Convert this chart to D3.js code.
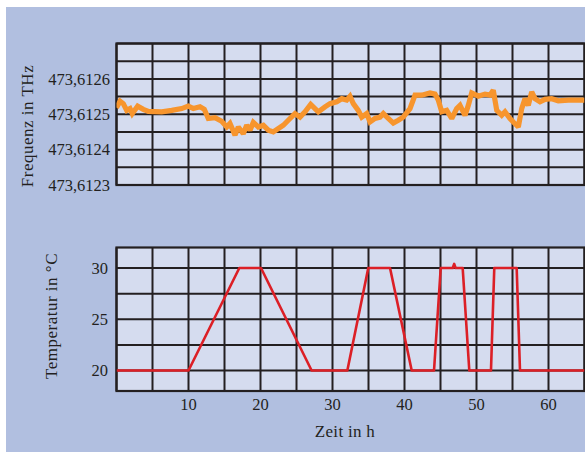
<!DOCTYPE html>
<html><head><meta charset="utf-8">
<script src="https://cdn.jsdelivr.net/npm/d3@7/dist/d3.min.js"></script>
<style>html,body{margin:0;padding:0;background:#fff;}svg{display:block;}</style>
</head><body>
<script>
// Frequency trace (hours, THz)
const freqHours = [0,0.49,0.94,1.42,1.88,2.19,2.94,3.72,4.42,6.28,7.67,9.06,9.97,10.67,11.6,12.19,12.75,13.68,14.61,15.31,15.76,16.46,16.92,17.61,18.08,18.54,19.0,19.69,20.39,21.08,21.78,23.17,24.1,24.79,25.49,26.18,26.97,28.03,28.96,29.65,30.58,31.28,31.97,32.43,32.89,33.58,34.06,34.75,35.21,35.9,36.6,37.06,37.75,38.44,39.14,39.83,40.76,41.46,42.39,43.54,44.24,44.69,45.17,45.86,46.56,47.25,47.71,48.4,48.86,49.33,50.25,51.18,51.88,52.33,52.81,53.5,53.96,54.65,55.11,55.81,56.28,56.74,57.19,57.67,58.13,58.82,59.51,60.44,61.36,62.75,65];
const freqValues = [473.612518,473.612537,473.61253,473.612511,473.612516,473.612502,473.612523,473.612514,473.612508,473.612507,473.612511,473.612516,473.612523,473.612516,473.612521,473.612514,473.612488,473.61249,473.61248,473.612464,473.612474,473.612441,473.612464,473.612445,473.612469,473.612455,473.612477,473.612464,473.612469,473.612455,473.61245,473.612469,473.612488,473.612502,473.612492,473.612507,473.612528,473.612507,473.612521,473.61253,473.612535,473.612544,473.61254,473.612551,473.61253,473.612511,473.612492,473.612502,473.612478,473.612488,473.612492,473.612502,473.612488,473.612475,473.612483,473.612492,473.612516,473.612554,473.612554,473.61256,473.612557,473.61254,473.612507,473.612511,473.612488,473.612516,473.612525,473.612497,473.612525,473.61256,473.612551,473.612557,473.612554,473.612568,473.612511,473.612497,473.612507,473.612488,473.612478,473.612464,473.612516,473.612544,473.612525,473.612563,473.612544,473.612535,473.612542,473.612544,473.612538,473.61254,473.61254];
// Temperature program (hours, °C)
const tempHours = [0,10,17.06,20.07,27.1,32.06,34.97,37.99,41,44.1,45.03,46.7,46.9,47.1,48.08,49,52.01,52.47,55.58,56.04,65];
const tempValues = [20,20,30,30,20,20,30,30,20,20,30,30,30.4,30,30,20,20,30,30,20,20];
const freqTicks = [473.6123,473.6124,473.6125,473.6126];
const freqTickLabels = ["473,6123","473,6124","473,6125","473,6126"];
const tempTicks = [20,25,30];
const timeTicks = [10,20,30,40,50,60];

const W=585,H=452;
const svg=d3.select("body").append("svg").attr("width",W).attr("height",H);
svg.append("rect").attr("x",6).attr("y",7).attr("width",W-6).attr("height",H-7).attr("fill","#b1bfe0");

const x=d3.scaleLinear().domain([0,65]).range([116.5,584.5]);
const yF=d3.scaleLinear().domain([473.6123,473.6127]).range([185,43.5]);
const yT=d3.scaleLinear().domain([18,32]).range([391,247.5]);
const font="'Liberation Serif','Times New Roman',serif";
const gridCol="#231f20";

function panel(y, yGrid){
  const g=svg.append("g");
  const [y0,y1]=y.range();
  g.append("rect").attr("x",x(0)).attr("y",y1).attr("width",x(65)-x(0)).attr("height",y0-y1).attr("fill","#d5dcef");
  g.selectAll(".v").data(d3.range(0,66,5)).join("line")
    .attr("x1",d=>x(d)).attr("x2",d=>x(d)).attr("y1",y1).attr("y2",y0)
    .attr("stroke",gridCol).attr("stroke-width",2);
  g.selectAll(".h").data(yGrid).join("line")
    .attr("x1",x(0)).attr("x2",x(65)).attr("y1",d=>y(d)).attr("y2",d=>y(d))
    .attr("stroke",gridCol).attr("stroke-width",2);
  g.append("rect").attr("x",x(0)).attr("y",y1).attr("width",x(65)-x(0)).attr("height",y0-y1)
    .attr("fill","none").attr("stroke",gridCol).attr("stroke-width",2.2);
  return g;
}
panel(yF, d3.range(0,9).map(i=>473.6123+i*0.00005));
panel(yT, [20,22.5,25,27.5,30]);

svg.append("clipPath").attr("id","c").append("rect").attr("x",x(0)).attr("y",0).attr("width",x(65)-x(0)).attr("height",H);

const fData=freqHours.map((h,i)=>[h,freqValues[i]]);
svg.append("path").datum(fData).attr("clip-path","url(#c)")
  .attr("d",d3.line().x(d=>x(d[0])).y(d=>yF(d[1])))
  .attr("fill","none").attr("stroke","#f7952d").attr("stroke-width",5.2).attr("stroke-linejoin","miter").attr("stroke-miterlimit",2);

const tData=tempHours.map((h,i)=>[h,tempValues[i]]);
svg.append("path").datum(tData).attr("clip-path","url(#c)")
  .attr("d",d3.line().x(d=>x(d[0])).y(d=>yT(d[1])))
  .attr("fill","none").attr("stroke","#dc1f26").attr("stroke-width",2.6).attr("stroke-linejoin","round");

// tick labels
svg.selectAll(".fl").data(freqTicks).join("text")
  .attr("x",110).attr("y",d=>yF(d)).attr("dy","0.35em").attr("text-anchor","end")
  .attr("font-family",font).attr("font-size",16.5).attr("fill","#231f20")
  .text((d,i)=>freqTickLabels[i]);
svg.selectAll(".tl").data(tempTicks).join("text")
  .attr("x",108).attr("y",d=>yT(d)).attr("dy","0.35em").attr("text-anchor","end")
  .attr("font-family",font).attr("font-size",16.5).attr("fill","#231f20")
  .text(d=>d);
svg.selectAll(".xl").data(timeTicks).join("text")
  .attr("x",d=>x(d)).attr("y",410).attr("text-anchor","middle")
  .attr("font-family",font).attr("font-size",16.5).attr("fill","#231f20")
  .text(d=>d);

// titles
svg.append("text").attr("transform","translate(33,126) rotate(-90)").attr("text-anchor","middle")
  .attr("font-family",font).attr("font-size",17).attr("letter-spacing",0.5).attr("fill","#231f20").text("Frequenz in THz");
svg.append("text").attr("transform","translate(57,316) rotate(-90)").attr("text-anchor","middle")
  .attr("font-family",font).attr("font-size",17).attr("letter-spacing",0.5).attr("fill","#231f20").text("Temperatur in °C");
svg.append("text").attr("x",345).attr("y",437).attr("text-anchor","middle")
  .attr("font-family",font).attr("font-size",17).attr("letter-spacing",0.3).attr("fill","#231f20").text("Zeit in h");
</script>
</body></html>
